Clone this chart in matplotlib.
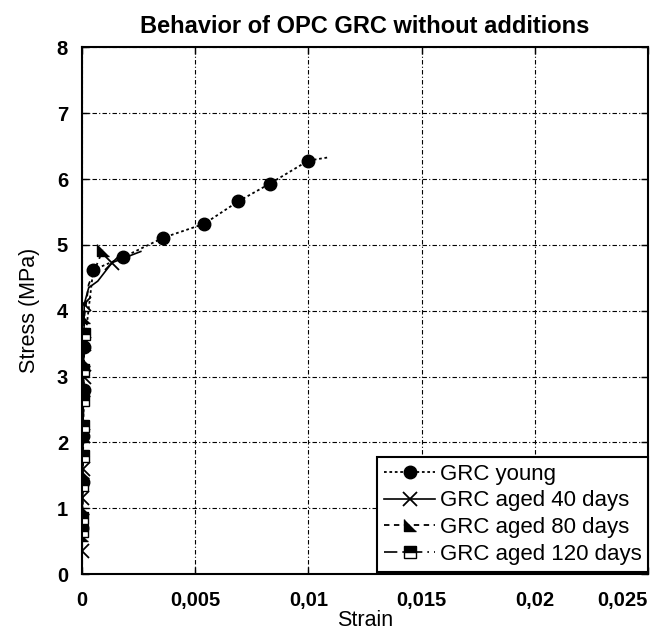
import matplotlib
matplotlib.use("Agg")
import matplotlib.pyplot as plt

plt.rcParams['font.family'] = ['Liberation Sans', 'DejaVu Sans']

# GRC young
young_strain = [0.0, 0.00002, 0.00004, 0.00006, 0.00008, 0.0001, 0.0005, 0.0018, 0.0036,
                0.0054, 0.0069, 0.0083, 0.0100, 0.0109]
young_stress = [0.0, 0.7, 1.4, 2.1, 2.8, 3.45, 4.62, 4.81, 5.11,
                5.32, 5.66, 5.93, 6.28, 6.33]
young_marks = [1, 2, 3, 4, 5, 6, 7, 8, 9, 10, 11, 12]

# GRC aged 40 days
d40_strain = [0.0, 0.0, 0.00002, 0.00003, 0.00005, 0.00007, 0.00009, 0.0001, 0.0003,
              0.0007, 0.00133, 0.0026]
d40_stress = [0.0, 0.35, 1.15, 1.6, 2.1, 3.0, 3.5, 4.1, 4.35,
              4.45, 4.73, 4.9]
d40_marks = [1, 2, 3, 4, 5, 6, 7, 10]

# GRC aged 80 days
d80_strain = [0.0, 0.00001, 0.00003, 0.00004, 0.00006, 0.00007, 0.00009, 0.0001, 0.0003, 0.00093]
d80_stress = [0.0, 0.6, 1.0, 1.55, 2.2, 2.8, 3.25, 3.9, 4.4, 4.93]
d80_marks = [1, 2, 3, 4, 5, 6, 7, 9]

# GRC aged 120 days
d120_strain = [0.0, 0.0, 0.00001, 0.00002, 0.00003, 0.00004, 0.00005, 0.00006, 0.00007, 0.00008]
d120_stress = [0.0, 0.65, 0.85, 1.35, 1.8, 2.25, 2.65, 3.1, 3.65, 4.0]
d120_marks = [1, 2, 3, 4, 5, 6, 7, 8]

xticks = [0, 0.005, 0.01, 0.015, 0.02, 0.025]
xtick_labels = ['0', '0,005', '0,01', '0,015', '0,02', '0,025']
yticks = [0, 1, 2, 3, 4, 5, 6, 7, 8]

fig = plt.figure(figsize=(6.66, 6.31), dpi=100)
ax = fig.add_axes([0.123, 0.09, 0.850, 0.835])

tri = [(-1, 1), (-1, -1), (1, -1)]

ax.plot(young_strain, young_stress, color='black', ls=(0, (1.5, 1.5)), lw=1.3,
        marker='o', ms=9, markevery=young_marks, label='GRC young')
ax.plot(d40_strain, d40_stress, color='black', ls='-', lw=1.2,
        marker='x', ms=10, mew=1.3, markevery=d40_marks, label='GRC aged 40 days')
ax.plot(d80_strain, d80_stress, color='black', ls=(0, (3, 2.5)), lw=1.3,
        marker=tri, ms=8, markevery=d80_marks, label='GRC aged 80 days')
ax.plot(d120_strain, d120_stress, color='black', ls=(0, (8, 3, 1, 3)), lw=1.2,
        marker='s', ms=8, fillstyle='top', markerfacecoloralt='white', mec='black',
        mfc='black', markevery=d120_marks, label='GRC aged 120 days')

ax.set_xlim(0, 0.025)
ax.set_ylim(0, 8)
ax.set_xticks(xticks)
ax.set_xticklabels(xtick_labels)
ax.set_yticks(yticks)
for lbl in ax.get_xticklabels() + ax.get_yticklabels():
    lbl.set_fontweight('bold')
    lbl.set_fontsize(14.5)
ax.get_xticklabels()[-1].set_horizontalalignment('right')
ax.get_xticklabels()[-1].set_x(0.0253)
ax.tick_params(direction='in', top=True, right=True, length=5, width=1)
ax.tick_params(axis='x', pad=12)
ax.tick_params(axis='y', pad=10)

ax.grid(True, color='black', ls=(0, (4, 2, 1, 2)), lw=0.8)
for s in ax.spines.values():
    s.set_linewidth(1.5)

ax.set_title('Behavior of OPC GRC without additions', fontsize=17, fontweight='bold', pad=10)
ax.set_xlabel('Strain', fontsize=15.5, labelpad=0)
ax.set_ylabel('Stress (MPa)', fontsize=15.5, labelpad=12)

leg = ax.legend(loc='lower right', bbox_to_anchor=(1, 0.005), borderaxespad=0,
                fontsize=16, fancybox=False, framealpha=1, edgecolor='black',
                handlelength=2.3, handletextpad=0.2, labelspacing=0.26, borderpad=0.3)
leg.get_frame().set_linewidth(1.5)

fig.savefig('out.png', dpi=100)
